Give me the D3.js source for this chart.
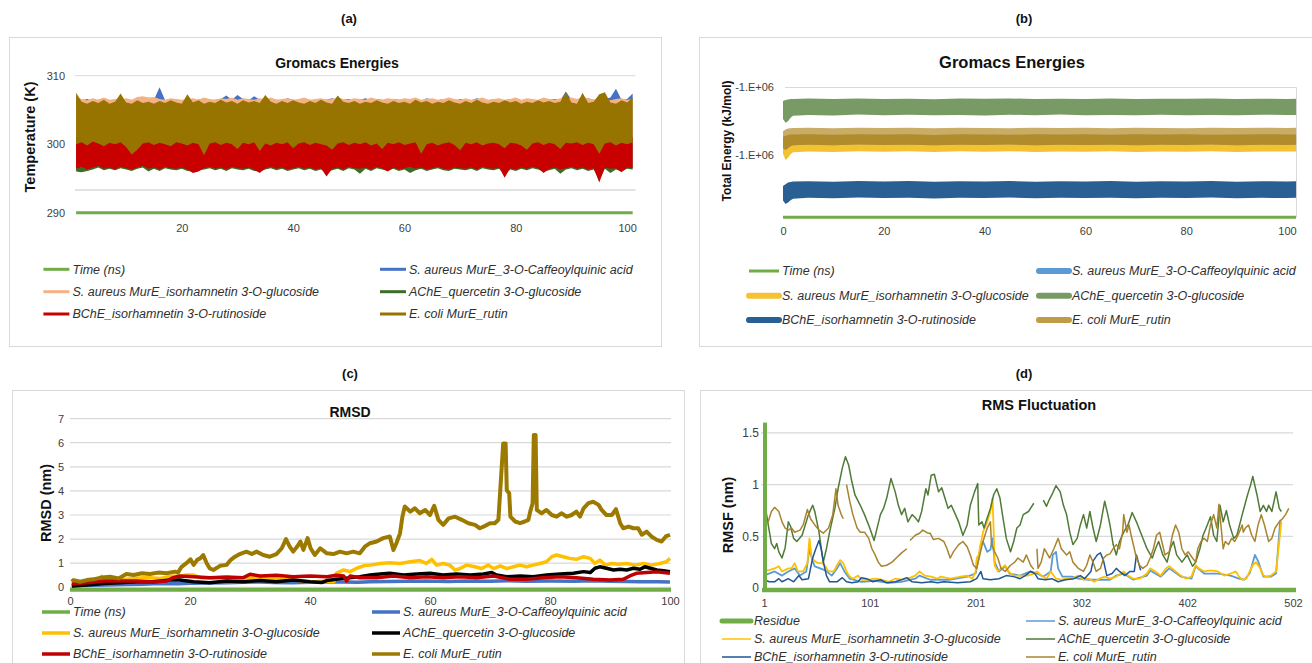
<!DOCTYPE html>
<html>
<head>
<meta charset="utf-8">
<script src="https://cdn.jsdelivr.net/npm/d3@7"></script>
<style>
body{margin:0;background:#fff;}
svg{display:block;font-family:"Liberation Sans",Arial,sans-serif;}
.lg{font-style:italic;font-size:12.5px;fill:#303030;}
.ttl{font-weight:bold;fill:#111;}
.plab{font-weight:bold;font-size:13px;fill:#111;}
</style>
</head>
<body>
<svg id="fig" width="1312" height="663"></svg>
<script>

//////////////////////data//////////////////////
var seriesNames=["Time (ns)","S. aureus MurE_3-O-Caffeoylquinic acid","S. aureus MurE_isorhamnetin 3-O-glucoside","AChE_quercetin 3-O-glucoside","BChE_isorhamnetin 3-O-rutinoside","E. coli MurE_rutin"];
var seriesNamesD=["Residue","S. aureus MurE_3-O-Caffeoylquinic acid","S. aureus MurE_isorhamnetin 3-O-glucoside","AChE_quercetin 3-O-glucoside","BChE_isorhamnetin 3-O-rutinoside","E. coli MurE_rutin"];

// (a) temperature (K): envelopes of the dense traces, one value per ns
var tempTime=d3.range(1,102);
var tempBrownTop=[307.5,306.2,305.9,306.3,306.0,306.5,305.9,306.2,307.4,306.1,
305.9,306.4,306.0,306.2,305.9,306.3,306.0,306.4,306.1,305.9,
307.3,306.1,306.4,305.9,306.2,306.0,306.5,306.1,306.3,305.9,
306.4,306.1,306.3,306.0,307.2,306.2,305.9,306.3,306.0,306.4,
306.1,305.9,306.3,306.0,306.5,306.1,305.9,307.1,306.2,306.0,
306.3,305.9,306.2,306.0,306.4,306.1,305.9,306.3,306.0,306.2,
305.9,306.5,306.1,306.3,305.9,306.2,306.0,306.4,306.1,305.9,
306.3,306.0,306.5,306.1,305.9,306.2,306.0,306.4,306.1,306.3,
305.9,306.2,306.0,306.4,306.1,306.3,306.0,306.2,307.6,306.1,
305.9,307.5,306.0,306.2,307.3,307.6,306.1,305.9,306.4,306.1,306.8];
var tempBrownLow=[300.0,300.3,299.8,300.4,300.1,299.7,300.2,300.0,300.3,299.6,
298.5,299.2,300.1,300.3,299.9,300.2,300.0,299.7,300.3,300.1,
299.8,300.2,300.0,298.4,300.1,300.3,299.9,300.2,300.0,299.3,
300.2,300.0,300.3,299.0,300.1,299.8,300.2,300.0,300.3,299.4,
300.1,300.3,299.9,300.2,300.0,299.8,299.2,300.1,300.3,299.9,
300.2,300.0,300.3,299.8,300.1,299.3,300.2,300.0,300.3,299.9,
300.1,300.3,298.6,300.0,300.2,299.8,300.1,300.3,299.9,299.1,
300.2,300.0,300.3,299.8,300.1,300.2,300.0,299.4,300.2,300.1,
299.8,299.2,300.1,300.3,299.9,300.2,300.0,299.3,300.2,300.1,
300.3,299.9,300.2,300.0,298.6,300.1,300.3,299.8,300.2,300.0,300.3];
var tempPinkTop=[306.9,306.6,306.4,306.7,306.5,306.8,306.5,306.6,306.5,306.7,
306.5,306.9,307.0,306.8,306.9,306.6,306.5,306.7,306.6,306.5,
306.6,306.7,306.5,306.8,306.6,306.5,306.7,306.6,306.8,306.5,
306.7,306.6,306.5,306.7,306.6,306.8,306.5,306.6,306.7,306.5,
306.6,306.8,306.5,306.6,306.7,306.5,306.6,306.8,306.6,306.5,
306.7,306.6,306.5,306.8,306.6,306.5,306.7,306.6,306.5,306.7,
306.6,306.8,306.5,306.6,306.7,306.5,306.6,306.8,306.6,306.5,
306.7,306.5,306.6,306.8,306.5,306.6,306.7,306.5,306.6,306.8,
306.5,306.7,306.6,306.5,306.8,306.6,306.5,306.7,306.6,306.8,
306.6,306.9,306.7,306.5,306.8,306.6,306.4,306.6,306.7,306.5,306.6];
var tempBlueTop=[307.0,306.4,306.6,306.3,306.5,306.7,306.4,306.5,306.3,306.6,
306.4,306.5,306.3,306.6,306.5,308.3,306.4,306.6,306.5,306.3,
306.6,306.4,306.5,306.7,306.4,306.5,306.6,307.1,306.5,307.2,
306.6,306.4,307.0,306.5,306.3,306.6,306.5,306.4,306.7,306.5,
306.4,306.6,306.5,306.3,306.6,306.5,306.7,306.4,306.5,306.6,
306.3,306.5,306.7,306.4,306.6,306.5,306.3,306.6,306.5,306.4,
306.6,306.5,306.3,306.7,306.5,306.4,306.6,306.5,306.3,306.6,
306.5,306.4,306.7,306.5,306.3,306.6,306.5,306.4,306.6,306.5,
306.3,306.6,306.5,306.4,306.7,306.5,306.6,306.4,307.7,306.5,
306.6,306.4,306.7,306.5,306.3,306.6,306.8,308.1,306.5,306.6,307.4];
var tempRedLow=[296.4,296.7,296.3,296.6,296.8,296.4,296.6,296.3,296.7,296.5,
296.3,296.6,296.8,296.4,296.6,296.3,296.7,296.5,296.4,296.6,
296.3,295.8,296.0,296.5,296.7,296.4,296.6,296.3,296.7,296.5,
296.4,296.6,296.3,295.8,296.5,296.7,296.4,296.6,296.3,296.5,
296.7,296.4,296.6,296.3,296.5,295.3,296.4,296.6,296.3,296.7,
296.5,296.4,296.6,296.3,296.7,296.5,296.0,296.6,296.3,296.5,
296.7,296.4,296.6,296.3,296.5,296.7,296.4,296.3,296.6,296.5,
296.4,296.6,296.3,296.7,296.5,296.4,296.6,295.1,296.5,296.3,
296.6,296.4,296.7,296.5,295.8,296.4,296.6,296.3,296.5,296.7,
296.4,296.6,296.3,296.5,294.4,296.6,296.4,296.5,295.9,296.6,296.5];
var tempGreenLow=[296.0,295.9,296.1,296.3,296.6,296.2,296.4,296.2,296.5,296.3,
296.1,296.4,296.6,296.0,296.4,296.1,296.5,296.3,296.2,296.4,
296.1,296.0,296.2,296.3,296.5,296.2,296.4,296.1,296.5,296.3,
296.2,296.4,296.1,296.0,296.3,296.5,296.2,296.4,296.1,296.3,
296.5,296.2,296.4,296.1,296.3,295.9,296.2,296.4,296.1,296.5,
296.3,295.7,296.4,296.1,296.5,296.3,296.1,296.4,296.1,296.3,
295.8,296.2,296.4,296.1,296.3,296.5,296.2,296.1,296.4,296.3,
296.2,296.4,296.1,296.5,296.3,296.2,296.4,295.6,296.3,296.1,
296.4,296.2,296.5,296.3,296.0,296.2,296.4,295.7,296.3,296.5,
296.2,296.4,296.1,296.3,294.8,296.4,295.8,296.3,296.0,296.4,296.3];
var tempTicksX=[20,40,60,80,100];
var tempTicksY=[290,300,310];

// (b) total energy (kJ/mol): band edges
var enTime=[0,0.5,1,1.5,2,5,10,15,20,25,30,35,40,45,50,55,60,65,70,75,80,85,90,95,100,101.8];
var enGreenTop=[-960300,-959600,-959200,-958900,-958800,-958500,-958900,-958400,-958800,-958600,-959000,-958500,-958700,-958400,-958900,-958600,-958800,-958500,-958900,-958600,-958700,-958400,-958800,-958600,-958900,-958700];
var enGreenLow=[-973500,-976300,-975200,-972600,-971100,-970600,-970900,-970300,-970700,-970400,-970800,-970500,-970900,-970400,-970700,-970300,-970800,-970500,-970700,-970400,-970800,-970500,-970700,-970400,-970600,-970500];
var enTanTop=[-982500,-981200,-980600,-980300,-980200,-980000,-980300,-979900,-980200,-980000,-980400,-979900,-980100,-980300,-979900,-980200,-980000,-980300,-979900,-980100,-980300,-980000,-980200,-979900,-980100,-980000];
var enTanCore=[-986500,-985800,-985300,-985000,-984900,-984800,-985100,-984700,-985000,-984800,-985200,-984700,-984900,-985100,-984800,-985000,-984700,-985100,-984800,-985000,-984800,-985100,-984900,-984700,-985000,-984900];
var enTanLow=[-995000,-996300,-995000,-993500,-992800,-992500,-992800,-992300,-992700,-992400,-992900,-992500,-992700,-992300,-992800,-992500,-992700,-992400,-992800,-992500,-992700,-992300,-992800,-992500,-992600,-992500];
var enYellowLow=[-999000,-1003700,-1002000,-999500,-998000,-997400,-997700,-997200,-997600,-997300,-997800,-997300,-997600,-997200,-997700,-997400,-997600,-997300,-997800,-997400,-997600,-997200,-997700,-997400,-997500,-997400];
var enBlueTop=[-1022800,-1021500,-1020300,-1019800,-1019500,-1019300,-1019600,-1019100,-1019500,-1019200,-1019700,-1019300,-1019500,-1019100,-1019600,-1019300,-1019500,-1019200,-1019600,-1019300,-1019500,-1019100,-1019600,-1019300,-1019400,-1019300];
var enBlueLow=[-1033500,-1036000,-1035000,-1033200,-1032100,-1031500,-1031800,-1031300,-1031700,-1031400,-1031900,-1031400,-1031700,-1031300,-1031800,-1031500,-1031700,-1031400,-1031800,-1031500,-1031700,-1031300,-1031800,-1031500,-1031600,-1031500];
var enTicksX=[0,20,40,60,80,100];
var enTicksY=[-950000,-1000000];
var enTickLabels=["-1.E+06","-1.E+06"];

// (c) RMSD (nm) [time ns, value]
var rmsdCaff=[[0.3,0.05],[2,0.07],[3.9,0.08],[6,0.1],[9.4,0.12],[12,0.13],[15,0.16],[18,0.15],[20,0.17],[23,0.18],[26.1,0.19],[29,0.21],[31.7,0.22],[34,0.2],[37,0.19],[40,0.21],[42,0.22],[45.6,0.22],[48,0.21],[50,0.23],[53,0.24],[56,0.25],[59.4,0.26],[63,0.24],[66,0.26],[70,0.25],[73,0.27],[76,0.25],[80,0.26],[84,0.25],[87,0.27],[90,0.25],[93,0.24],[95,0.23],[98,0.23],[100,0.22]];
var rmsdIsorh=[[0.3,0.1],[1.7,0.15],[3.3,0.19],[4.8,0.25],[5.3,0.45],[5.8,0.23],[8.3,0.3],[10.6,0.37],[12.8,0.41],[15,0.37],[17.2,0.47],[18.3,0.44],[19.4,0.51],[20.6,0.51],[21.7,0.4],[25,0.38],[30,0.4],[35,0.36],[38,0.28],[40,0.22],[42,0.25],[44,0.24],[44.4,0.58],[45.6,0.72],[46.7,0.65],[47.8,0.79],[48.9,0.89],[50,0.92],[51.7,0.99],[53.3,1.02],[55,0.99],[56.7,1.06],[58.3,1.11],[59.4,0.99],[60.3,1.16],[61.1,0.92],[62.2,0.99],[63.3,0.92],[64.2,0.71],[65,0.78],[66.1,0.92],[67.5,0.85],[68.6,0.78],[69.7,0.92],[70.6,0.78],[71.7,0.89],[72.8,0.78],[73.9,0.85],[75,0.92],[76.1,0.85],[77.2,0.92],[78.3,0.99],[79.4,1.06],[80.3,1.27],[81.1,1.34],[82.2,1.27],[83.3,1.2],[84.4,1.16],[85.6,1.27],[86.7,1.2],[87.5,0.99],[88.3,1.13],[89.2,0.92],[90.3,0.99],[91.4,0.96],[92.8,0.99],[94.2,0.92],[95.6,0.99],[96.9,0.92],[98.3,0.99],[99.4,1.06],[100,1.2]];
var rmsdAche=[[0.3,0.05],[2.8,0.1],[5.6,0.16],[8.3,0.19],[11.1,0.23],[13.9,0.23],[16.7,0.3],[18.3,0.3],[20.6,0.23],[23.3,0.19],[26.1,0.26],[28.9,0.23],[31.7,0.28],[34.4,0.23],[37.2,0.3],[40,0.23],[42,0.2],[42.8,0.28],[45.6,0.37],[48.3,0.44],[50,0.51],[51.7,0.55],[53.3,0.58],[55.6,0.51],[57.8,0.55],[60,0.58],[62.2,0.51],[64.4,0.55],[66.7,0.51],[68.9,0.55],[70.3,0.61],[71.1,0.51],[72.8,0.44],[75,0.47],[77.2,0.44],[79.4,0.51],[81.7,0.55],[83.9,0.58],[85.6,0.65],[86.7,0.61],[87.5,0.79],[88.3,0.85],[89.4,0.79],[90.6,0.72],[91.7,0.75],[92.8,0.72],[93.9,0.79],[95,0.75],[95.8,0.85],[96.7,0.79],[97.8,0.72],[98.9,0.69],[100,0.65]];
var rmsdBche=[[0.3,0.15],[2.8,0.19],[5.6,0.26],[8.3,0.26],[11.1,0.26],[13.9,0.22],[16.1,0.26],[17.2,0.4],[18.3,0.47],[20.6,0.44],[23.3,0.4],[26.1,0.43],[28.9,0.4],[30,0.54],[31.7,0.47],[34.4,0.5],[37.2,0.44],[40,0.47],[42.8,0.44],[44.4,0.5],[45.6,0.47],[46.1,0.26],[46.7,0.47],[48.3,0.4],[51.1,0.4],[53.9,0.47],[56.7,0.4],[59.4,0.44],[62.2,0.4],[65,0.44],[67.8,0.4],[70.6,0.47],[73.3,0.33],[76.1,0.33],[78.9,0.4],[81.7,0.44],[84.4,0.4],[87.2,0.33],[90,0.3],[92.2,0.33],[93.3,0.47],[94.4,0.58],[96.1,0.61],[97.8,0.64],[98.9,0.61],[100,0.58]];
var rmsdEcoli=[[0.3,0.23],[0.6,0.3],[1.7,0.23],[2.8,0.3],[3.9,0.33],[5.3,0.41],[6.7,0.44],[8.1,0.37],[9.4,0.55],[10.6,0.51],[12,0.58],[13.3,0.55],[14.7,0.61],[16.1,0.58],[17.5,0.65],[18,0.61],[18.6,0.85],[19.4,1.0],[20.1,1.16],[20.6,0.93],[21.2,1.14],[21.7,1.2],[22.2,1.34],[22.8,0.99],[23.3,0.78],[23.9,0.72],[25,0.89],[26.1,0.93],[26.8,1.14],[27.5,1.27],[28.3,1.38],[29.4,1.48],[30.3,1.38],[31.1,1.48],[32.2,1.34],[33.3,1.27],[34.4,1.38],[35.3,1.62],[36,2.0],[36.6,1.7],[37.2,1.48],[37.9,1.7],[38.4,1.9],[38.9,1.55],[39.6,2.04],[40.1,1.62],[40.8,1.34],[41.7,1.62],[42.8,1.41],[43.9,1.38],[45,1.48],[46.1,1.41],[47.2,1.48],[48.3,1.41],[49.2,1.7],[50,1.83],[51.1,1.9],[52.2,2.04],[53.3,2.11],[53.9,1.55],[54.4,1.83],[55,2.24],[55.4,2.93],[55.8,3.35],[56.7,3.14],[57.5,3.28],[58.3,3.07],[59.2,3.21],[60,3.0],[60.7,3.38],[61.4,2.8],[62.2,2.59],[63.1,2.86],[64.2,2.93],[65.3,2.8],[66.4,2.66],[67.5,2.59],[68.3,2.45],[69.2,2.55],[70,2.66],[70.8,2.66],[71.4,2.8],[71.8,4.39],[72.2,5.97],[72.6,5.97],[72.8,4.03],[73.2,3.9],[73.4,2.93],[74.2,2.73],[75,2.66],[75.8,2.73],[76.4,2.8],[76.7,3.14],[77.1,3.49],[77.3,6.32],[77.6,6.32],[77.8,3.21],[78.6,3.07],[79.4,3.21],[80.3,3.0],[81.1,2.93],[81.9,3.07],[82.8,2.93],[83.6,3.0],[84.4,3.14],[85,2.93],[85.6,3.28],[86.4,3.49],[87.2,3.55],[88.1,3.42],[88.6,3.21],[89.4,3.0],[90.3,3.0],[91,3.24],[91.7,2.66],[92.2,2.45],[93.1,2.52],[93.9,2.45],[94.7,2.45],[95.3,2.18],[96.1,2.31],[96.9,2.11],[97.8,1.97],[98.6,1.9],[99.3,2.11],[100,2.18]];
var rmsdTicksX=[0,20,40,60,80,100];
var rmsdTicksY=[0,1,2,3,4,5,6,7];

// (d) RMSF (nm) [residue index, value], null = gap
var rmsfCaff=[[0,0.12],[10,0.16],[17,0.12],[23,0.16],[29,0.19],[34,0.12],[40,0.16],[43,0.38],[46,0.26],[48,0.21],[53,0.19],[58,0.17],[64,0.12],[69,0.19],[72,0.24],[76,0.16],[81,0.09],[92,0.06],[105,0.07],[118,0.05],[130,0.06],[143,0.09],[147,0.12],[157,0.08],[164,0.08],[176,0.08],[192,0.11],[200,0.14],[203,0.29],[205,0.43],[207,0.45],[211,0.35],[214,0.37],[216,0.48],[218,0.25],[222,0.16],[228,0.21],[232,0.14],[242,0.12],[252,0.16],[258,0.14],[264,0.11],[271,0.16],[273,0.32],[276,0.35],[278,0.19],[282,0.11],[291,0.11],[297,0.09],[307,0.08],[317,0.08],[327,0.08],[333,0.12],[340,0.14],[349,0.08],[362,0.12],[365,0.17],[375,0.11],[383,0.19],[394,0.11],[404,0.09],[408,0.21],[416,0.14],[429,0.14],[441,0.12],[449,0.09],[454,0.08],[459,0.14],[464,0.32],[467,0.26],[472,0.11],[479,0.11],[484,0.14],[488,0.66]];
var rmsfIsorh=[[0,0.17],[4,0.17],[10,0.19],[14,0.21],[17,0.16],[23,0.19],[26,0.19],[29,0.24],[32,0.16],[37,0.16],[41,0.24],[43,0.48],[45,0.29],[48,0.26],[51,0.24],[55,0.24],[58,0.21],[61,0.16],[66,0.16],[69,0.22],[72,0.27],[75,0.24],[78,0.16],[81,0.11],[84,0.09],[89,0.12],[92,0.08],[99,0.08],[105,0.09],[111,0.08],[118,0.06],[124,0.09],[130,0.08],[136,0.09],[143,0.12],[147,0.16],[152,0.12],[158,0.11],[164,0.09],[167,0.11],[176,0.09],[186,0.11],[192,0.12],[197,0.09],[200,0.16],[201,0.29],[203,0.32],[204,0.38],[207,0.54],[211,0.64],[214,0.74],[216,0.87],[217,0.58],[218,0.22],[221,0.16],[224,0.19],[228,0.22],[231,0.16],[236,0.12],[242,0.12],[249,0.12],[255,0.14],[258,0.16],[262,0.12],[267,0.09],[271,0.16],[276,0.09],[281,0.08],[286,0.09],[291,0.09],[297,0.12],[302,0.08],[307,0.09],[312,0.06],[317,0.09],[322,0.11],[327,0.09],[333,0.11],[340,0.16],[344,0.12],[349,0.09],[355,0.09],[362,0.14],[365,0.19],[370,0.16],[375,0.12],[380,0.19],[383,0.21],[388,0.17],[394,0.12],[399,0.09],[404,0.11],[408,0.22],[411,0.19],[416,0.16],[422,0.17],[429,0.16],[435,0.12],[441,0.14],[446,0.16],[449,0.11],[452,0.08],[456,0.09],[459,0.16],[462,0.22],[465,0.25],[469,0.19],[472,0.12],[475,0.11],[479,0.12],[484,0.16],[487,0.45],[489,0.64]];
var rmsfAche=[[0,1.16],[2,0.74],[4,0.61],[7,0.43],[10,0.38],[12,0.43],[14,0.35],[17,0.29],[20,0.39],[23,0.64],[25,0.6],[28,0.48],[31,0.45],[36,0.51],[39,0.61],[42,0.71],[46,0.8],[48,0.74],[52,0.54],[55,0.32],[56,0.25],[59,0.38],[62,0.54],[67,0.77],[70,0.96],[74,1.16],[77,1.27],[80,1.19],[83,1.03],[86,0.9],[91,0.8],[95,0.71],[100,0.58],[104,0.46],[106,0.54],[110,0.71],[113,0.77],[116,0.87],[120,1.06],[124,0.93],[127,0.8],[130,0.71],[133,0.77],[136,0.64],[140,0.71],[143,0.68],[146,0.64],[149,0.74],[153,0.96],[155,0.9],[158,1.09],[161,1.1],[165,0.93],[168,0.97],[171,0.87],[174,0.77],[177,0.8],[181,0.71],[184,0.64],[188,0.51],[192,0.61],[195,0.8],[199,0.93],[202,1.01],[203,0.61],[206,0.64],[208,0.58],[211,0.68],[214,0.77],[217,0.9],[220,0.96],[223,0.87],[226,0.67],[229,0.48],[233,0.35],[236,0.45],[239,0.58],[242,0.61],[245,0.71],[250,0.74],[255,0.82],null,[264,0.85],[267,0.79],[269,0.84],[272,0.9],[276,0.99],[280,0.93],[283,0.8],[286,0.71],[289,0.54],[292,0.42],[296,0.48],[299,0.61],[302,0.71],[305,0.58],[308,0.74],[311,0.58],[314,0.45],[318,0.61],[322,0.84],[325,0.71],[327,0.61],[330,0.42],[333,0.32],[336,0.45],[340,0.54],[344,0.61],[348,0.73],[352,0.64],[357,0.51],[362,0.38],[367,0.29],[370,0.38],[373,0.45],[377,0.32],[381,0.25],[384,0.38],[387,0.45],[390,0.32],[395,0.25],[400,0.32],[405,0.21],[408,0.25],[412,0.38],[415,0.51],[419,0.61],[422,0.69],[425,0.51],[428,0.45],[431,0.8],[434,0.64],[437,0.75],[440,0.61],[444,0.48],[447,0.51],[452,0.71],[457,0.9],[460,1.0],[462,1.08],[466,0.9],[469,0.74],[472,0.8],[475,0.74],[477,0.8],[480,0.74],[484,0.93],[487,0.77],[489,0.74]];
var rmsfBche=[[0,0.08],[5,0.06],[10,0.06],[14,0.09],[17,0.06],[23,0.09],[28,0.06],[33,0.12],[36,0.08],[42,0.09],[46,0.29],[49,0.38],[52,0.46],[54,0.38],[56,0.26],[59,0.12],[62,0.06],[69,0.06],[74,0.1],[78,0.06],[83,0.05],[89,0.06],[92,0.1],[97,0.09],[103,0.06],[110,0.08],[116,0.05],[124,0.06],[130,0.08],[135,0.1],[140,0.06],[149,0.05],[158,0.06],[164,0.05],[170,0.06],[183,0.05],[195,0.06],[201,0.09],[205,0.16],[207,0.09],[214,0.08],[222,0.09],[229,0.12],[236,0.11],[242,0.09],[247,0.12],[252,0.16],[256,0.14],[259,0.09],[266,0.08],[272,0.09],[278,0.06],[285,0.08],[293,0.09],[299,0.12],[303,0.09],[309,0.16],[311,0.26],[315,0.32],[318,0.34],[321,0.26],[324,0.12],[329,0.14],[333,0.19],[336,0.16],[341,0.12],[346,0.16],[350,0.16],[352,0.32],[356,0.17]];
var rmsfEcoli=[[0,0.64],[4,0.64],[7,0.74],[10,0.78],[14,0.74],[17,0.64],[20,0.58],[23,0.56],[26,0.58],[29,0.54],[34,0.56],[37,0.61],[41,0.76],[44,0.67],[48,0.61],[52,0.56],[56,0.53],[61,0.58],[65,0.71],[68,0.96],[70,0.8],[73,0.71],[75,0.67],null,[78,1.0],[81,0.84],[84,0.71],[88,0.58],[91,0.54],[95,0.54],[99,0.48],[102,0.38],[105,0.32],[108,0.25],[111,0.21],[116,0.22],[121,0.25],[125,0.29],[130,0.34],[135,0.38],null,[138,0.46],[143,0.51],[147,0.53],[150,0.56],[155,0.53],[157,0.53],[160,0.47],[165,0.48],[170,0.45],[173,0.38],[176,0.29],[179,0.35],[184,0.42],[188,0.45],[192,0.4],[195,0.32],[198,0.22],[201,0.19],[204,0.32],[207,0.45],[211,0.58],[214,0.64],[215,0.42],[218,0.35],[221,0.29],[224,0.19],[228,0.16],[233,0.22],[237,0.25],[240,0.29],[245,0.25],[248,0.32],[252,0.22],[255,0.18],null,[258,0.38],[259,0.19],[262,0.25],[265,0.38],[270,0.29],[274,0.38],[278,0.48],[281,0.38],[286,0.32],[289,0.35],[292,0.25],[297,0.19],[302,0.16],[305,0.22],[308,0.32],[311,0.25],[314,0.16],[318,0.19],[321,0.29],[324,0.32],[327,0.33],[330,0.38],[333,0.42],[336,0.38],[339,0.54],[340,0.71],[343,0.54],[345,0.61],[347,0.51],[350,0.38],[352,0.29],[355,0.22],[358,0.19],[362,0.22],[365,0.29],[368,0.38],[371,0.51],[374,0.54],[376,0.45],[379,0.32],[383,0.35],[386,0.51],[389,0.61],[392,0.54],[395,0.38],[398,0.32],[401,0.35],[405,0.29],[408,0.25],[410,0.38],[413,0.45],[416,0.48],[419,0.45],[422,0.61],[425,0.71],[428,0.58],[430,0.81],[434,0.38],[436,0.45],[439,0.42],[442,0.48],[445,0.45],[448,0.51],[452,0.61],[453,0.54],[455,0.58],[458,0.61],[461,0.51],[464,0.45],[467,0.61],[470,0.71],[473,0.61],[477,0.45],[480,0.48],[483,0.58],[487,0.64],[490,0.67],[493,0.71],[496,0.77]];
var rmsfTickIdx=[0,100,200,300,400,500];
var rmsfTickLabels=["1","101","201","302","402","502"];
var rmsfTicksY=[0,0.5,1,1.5];

//////////////////////common//////////////////////
var svg=d3.select("#fig");
var grid="#d9d9d9";
var timeGreen="#70ad47";
var plain=function(d){return String(d);};

function panelBox(x,y,w,h){
    svg.append("rect").attr("x",x+0.5).attr("y",y+0.5).attr("width",w).attr("height",h)
    .attr("fill","none").attr("stroke","#d9d9d9");
}
function label(x,y,s,cls,size){
    return svg.append("text").attr("x",x).attr("y",y).attr("dy","0.35em").attr("text-anchor","middle")
    .attr("class",cls).attr("font-size",size).text(s);
}
function axisTitle(x,y,s,size){
    svg.append("text").attr("transform","translate("+x+","+y+") rotate(-90)").attr("dy","0.35em")
    .attr("text-anchor","middle").attr("class","ttl").attr("font-size",size).text(s);
}
function hline(x1,x2,y,color,w){
    svg.append("line").attr("x1",x1).attr("x2",x2).attr("y1",y).attr("y2",y)
    .attr("stroke",color).attr("stroke-width",w);
}
function styleAxis(g,size){
    g.select(".domain").remove();
    g.attr("font-family",null).attr("font-size",null);
    g.selectAll("text").attr("font-size",size).attr("fill","#404040");
}
function leftLabels(scale,values,xr,size,fmt){
    var ax=d3.axisLeft(scale).tickValues(values).tickSize(0).tickPadding(0).tickFormat(fmt||plain);
    var g=svg.append("g").attr("transform","translate("+xr+",0)").call(ax);
    styleAxis(g,size);
}
function bottomLabels(scale,values,yc,size,fmt){
    var ax=d3.axisBottom(scale).tickValues(values).tickSize(0).tickPadding(0).tickFormat(fmt||plain);
    var g=svg.append("g").attr("transform","translate(0,"+(yc-4)+")").call(ax);
    styleAxis(g,size);
}
//凡例
function legend(names,colors,widths,cols,rows,len){
    names.forEach(function(n,i){
        var cx=cols[i%2];
        var cy=rows[Math.floor(i/2)];
        svg.append("line").attr("x1",cx).attr("x2",cx+len).attr("y1",cy).attr("y2",cy)
        .attr("stroke",colors[i]).attr("stroke-width",widths[i])
        .attr("stroke-linecap",widths[i]>4?"round":"butt");
        svg.append("text").attr("x",cx+len+3).attr("y",cy).attr("dy","0.35em").attr("class","lg").text(n);
    });
}
function val(v,i){return Array.isArray(v)?v[i]:v;}
function band(xs,xScale,yScale,low,high,color){
    var pts=xs.map(function(t,i){return [t,val(low,i),val(high,i)];});
    svg.append("path").datum(pts)
    .attr("d",d3.area().x(function(d){return xScale(d[0]);}).y0(function(d){return yScale(d[1]);}).y1(function(d){return yScale(d[2]);}))
    .attr("fill",color);
}
function series(data,xScale,yScale,color,w){
    svg.append("path").datum(data)
    .attr("d",d3.line().defined(function(d){return d!==null;}).x(function(d){return xScale(d[0]);}).y(function(d){return yScale(d[1]);}))
    .attr("fill","none").attr("stroke",color).attr("stroke-width",w).attr("stroke-linejoin","round");
}

//////////////////////(a) temperature//////////////////////
panelBox(9,37,652,309);
label(349,18,"(a)","plab",13);
label(337,63,"Gromacs Energies","ttl",14);
axisTitle(29.5,137,"Temperature (K)",14.5);
var xA=d3.scaleLinear().domain([0,100]).range([70.5,627.1]);
var yA=d3.scaleLinear().domain([290,310]).range([212.7,75.7]);
hline(75,635.5,yA(310),grid,1);
hline(75,635.5,yA(293.3),grid,1.5);
var colA=[timeGreen,"#4472c4","#f4b183","#3a6e28","#c80000","#977400"];
band(tempTime,xA,yA,300,tempBlueTop,colA[1]);
band(tempTime,xA,yA,300,tempPinkTop,colA[2]);
band(tempTime,xA,yA,tempGreenLow,300,colA[3]);
band(tempTime,xA,yA,tempRedLow,301,colA[4]);
band(tempTime,xA,yA,tempBrownLow,tempBrownTop,colA[5]);
// time series sits on the axis floor
var yAc=yA.copy().clamp(true);
series(tempTime.map(function(t){return [t,t];}),xA,yAc,timeGreen,3);
leftLabels(yA,tempTicksY,65,11);
bottomLabels(xA,tempTicksX,228,11);
legend(seriesNames,colA,[3,3,3,3,3,3],[43.4,380],[269.3,291.7,314],26);

//////////////////////(b) total energy//////////////////////
panelBox(699,37,620,309);
label(1024,18,"(b)","plab",13);
label(1012,62,"Gromacs Energies","ttl",16.5);
axisTitle(727,141,"Total Energy (kJ/mol)",12);
var xB=d3.scaleLinear().domain([0,100]).range([783,1287]);
var yB=d3.scaleLinear().domain([-1045800,-950000]).range([217.3,87]);
svg.append("path").attr("d","M"+xB(0.4)+","+(yB(-950000)+0.5)+"H1296.5V217").attr("fill","none").attr("stroke",grid);
var colB=[timeGreen,"#5b9bd5","#f5c234","#789a64","#285f94","#c09c48"];
band(enTime,xB,yB,enYellowLow,-984000,"#f2c232");
band(enTime,xB,yB,enGreenLow,enGreenTop,"#789a64");
band(enTime,xB,yB,enBlueLow,enBlueTop,"#2a5f94");
band(enTime,xB,yB,enTanLow,enTanTop,"#c9ac66");
band(enTime,xB,yB,enTanLow,enTanCore,"#b08c2c");
hline(xB(0),xB(101.8),yB(-1045800),timeGreen,3);
leftLabels(yB,enTicksY,774,11,function(d,i){return enTickLabels[i];});
bottomLabels(xB,enTicksX,231,11);
legend(seriesNames,colB,[3,6,6,6,6,6],[749,1039],[271,295.7,320],30);

//////////////////////(c) RMSD//////////////////////
panelBox(12,390,672,300);
label(350,373,"(c)","plab",13);
label(350,412,"RMSD","ttl",14);
axisTitle(46,503,"RMSD (nm)",14.5);
var xC=d3.scaleLinear().domain([0,100]).range([70,670]);
var yC=d3.scaleLinear().domain([0,7]).range([587.3,418.6]);
rmsdTicksY.forEach(function(v){hline(70,671,yC(v),grid,1.2);});
hline(70,671,yC(0)+2.5,timeGreen,4);
var colC=[timeGreen,"#4472c4","#ffc000","#000000","#c00000","#9c7a00"];
series(rmsdCaff,xC,yC,colC[1],3.5);
series(rmsdIsorh,xC,yC,colC[2],3.5);
series(rmsdAche,xC,yC,colC[3],3.5);
series(rmsdBche,xC,yC,colC[4],3.5);
series(rmsdEcoli,xC,yC,colC[5],4);
leftLabels(yC,rmsdTicksY,64,11);
bottomLabels(xC,rmsdTicksX,601,11);
legend(seriesNames,colC,[3.5,3.5,3.5,3.5,3.5,3.5],[42,372],[612,633,654],28);

//////////////////////(d) RMSF//////////////////////
panelBox(700,390,620,300);
label(1024,373,"(d)","plab",13);
label(1039,405,"RMS Fluctuation","ttl",14.5);
axisTitle(728,515,"RMSF (nm)",14.5);
var xD=d3.scaleLinear().domain([0,500]).range([764,1293]);
var yD=d3.scaleLinear().domain([0,1.6]).range([588,422.6]);
rmsfTicksY.slice(1).forEach(function(v){hline(761,1293,yD(v),grid,1.2);});
var colD=[timeGreen,"#5b9bd5","#ffc000","#4f7b36","#1f5698","#a8842e"];
series(rmsfCaff,xD,yD,colD[1],1.8);
series(rmsfIsorh,xD,yD,colD[2],1.8);
series(rmsfAche,xD,yD,colD[3],1.5);
series(rmsfBche,xD,yD,colD[4],1.5);
series(rmsfEcoli,xD,yD,colD[5],1.5);
// residue series drawn along the axes
hline(762,1296,yD(0)+2,timeGreen,4.5);
svg.append("line").attr("x1",xD(0)+1).attr("x2",xD(0)+1).attr("y1",yD(0)+2).attr("y2",yD(1.6)).attr("stroke",timeGreen).attr("stroke-width",4);
leftLabels(yD,rmsfTicksY,759,12);
bottomLabels(xD,rmsfTickIdx,603,11,function(d,i){return rmsfTickLabels[i];});
legend(seriesNamesD,colD,[5,1.5,1.5,1.5,1.5,1.5],[722,1026],[621,639,657],29);

</script>
</body>
</html>
